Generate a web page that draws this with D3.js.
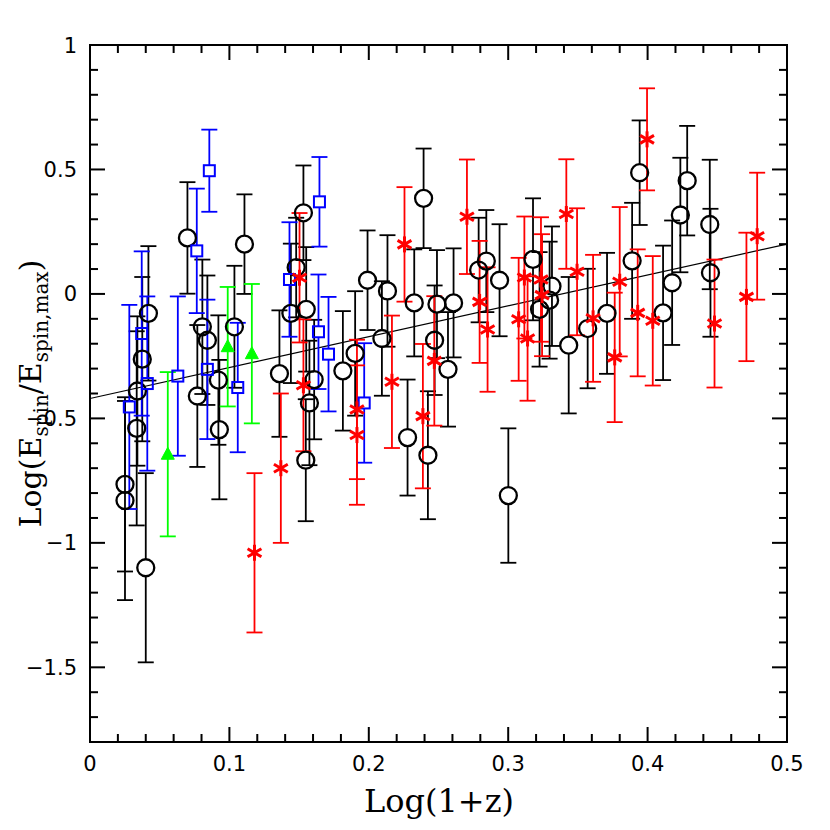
<!DOCTYPE html>
<html><head><meta charset="utf-8">
<script src="https://cdn.jsdelivr.net/npm/d3@7"></script>
<style>html,body{margin:0;padding:0;background:#fff}</style>
</head><body>
<svg id="c" width="830" height="830"></svg>
<script>
// ---- data (log(1+z), log(Espin/Espin,max), symmetric error) ----
const blackX = [0.0251,0.0251,0.040,0.0335,0.034,0.0375,0.0419,0.0699,0.0806,0.0842,0.077,0.0921,0.0928,0.1036,0.1108,0.1359,0.1441,0.1531,0.1479,0.1551,0.1608,0.1574,0.1548,0.1814,0.1902,0.1991,0.2094,0.2134,0.2278,0.2326,0.2393,0.2424,0.2472,0.2489,0.2568,0.2608,0.2788,0.2843,0.2938,0.3001,0.3178,0.3225,0.3297,0.3314,0.3434,0.357,0.3709,0.3889,0.3943,0.4111,0.4176,0.4235,0.4284,0.4446,0.4451];
const blackY = [-0.765,-0.83,-1.10,-0.54,-0.39,-0.262,-0.078,0.225,-0.132,-0.186,-0.41,-0.346,-0.545,-0.132,0.200,-0.32,-0.078,0.326,0.106,-0.062,-0.344,-0.438,-0.668,-0.309,-0.239,0.055,-0.179,0.012,-0.577,-0.036,0.384,-0.648,-0.186,-0.041,-0.303,-0.036,0.096,0.132,0.055,-0.81,0.139,-0.062,-0.025,0.031,-0.206,-0.139,-0.078,0.133,0.487,-0.076,0.045,0.317,0.455,0.279,0.085];
const blackE = [0.35,0.4,0.38,0.39,0.3,0.33,0.27,0.224,0.27,0.26,0.285,0.26,0.28,0.245,0.2,0.254,0.28,0.19,0.2,0.25,0.24,0.25,0.245,0.24,0.25,0.2,0.23,0.224,0.233,0.215,0.2,0.257,0.22,0.217,0.23,0.219,0.21,0.205,0.225,0.27,0.245,0.23,0.235,0.24,0.274,0.24,0.243,0.233,0.21,0.27,0.25,0.23,0.22,0.26,0.257];

const blueX = [0.0856,0.0766,0.0371,0.0411,0.0282,0.063,0.0842,0.106,0.1431,0.1646,0.1639,0.1711,0.1967];
const blueY = [0.495,0.173,-0.159,-0.36,-0.454,-0.33,-0.303,-0.376,0.058,0.37,-0.152,-0.242,-0.438];
const blueE = [0.165,0.25,0.33,0.35,0.41,0.32,0.28,0.26,0.23,0.18,0.23,0.23,0.24];

const greenX = [0.0988,0.1161,0.0558];
const greenY = [-0.212,-0.24,-0.644];
const greenE = [0.24,0.28,0.33];

const redX = [0.118,0.1369,0.1503,0.1531,0.1915,0.1915,0.2166,0.2256,0.2388,0.247,0.2704,0.2795,0.2852,0.3075,0.3116,0.3139,0.3235,0.3243,0.3417,0.3494,0.3609,0.3764,0.38,0.3929,0.3996,0.4037,0.448,0.4709,0.4786];
const redY = [-1.04,-0.70,0.065,-0.367,-0.464,-0.567,-0.353,0.199,-0.491,-0.269,0.31,-0.032,-0.143,-0.102,0.066,-0.179,0.058,-0.005,0.321,0.089,-0.098,-0.255,0.049,-0.076,0.621,-0.108,-0.119,-0.012,0.232];
const redE = [0.32,0.3,0.26,0.265,0.28,0.28,0.266,0.23,0.29,0.26,0.23,0.245,0.25,0.247,0.245,0.25,0.25,0.245,0.22,0.255,0.255,0.26,0.3,0.255,0.205,0.26,0.257,0.258,0.255];

const fitX = [0, 0.5];
const fitY = [-0.42, 0.2];

const xMajor = [0, 0.1, 0.2, 0.3, 0.4, 0.5];
const xMajorLabels = ["0", "0.1", "0.2", "0.3", "0.4", "0.5"];
const yMajor = [-1.5, -1, -0.5, 0, 0.5, 1];
const yMajorLabels = ["\u22121.5", "\u22121", "\u22120.5", "0", "0.5", "1"];

// ---- layout ----
const L = 90, R = 787, T = 45, B = 742;
const x = d3.scaleLinear().domain([0, 0.5]).range([L, R]);
const y = d3.scaleLinear().domain([-1.8, 1]).range([B, T]);
const svg = d3.select("#c");

// ticks
const xMinor = d3.range(0, 0.5001, 0.02).filter(v => Math.abs(v*10 - Math.round(v*10)) > 1e-6);
const yMinor = d3.range(-1.8, 1.0001, 0.1).filter(v => Math.abs(v*2 - Math.round(v*2)) > 1e-6);
const tk = svg.append("g").attr("stroke", "#000").attr("stroke-width", 2);
const MAJ = 15, MIN = 8;
xMajor.forEach(v => {
  tk.append("line").attr("x1", x(v)).attr("x2", x(v)).attr("y1", B).attr("y2", B - MAJ);
  tk.append("line").attr("x1", x(v)).attr("x2", x(v)).attr("y1", T).attr("y2", T + MAJ);
});
xMinor.forEach(v => {
  tk.append("line").attr("x1", x(v)).attr("x2", x(v)).attr("y1", B).attr("y2", B - MIN);
  tk.append("line").attr("x1", x(v)).attr("x2", x(v)).attr("y1", T).attr("y2", T + MIN);
});
yMajor.forEach(v => {
  tk.append("line").attr("y1", y(v)).attr("y2", y(v)).attr("x1", L).attr("x2", L + MAJ);
  tk.append("line").attr("y1", y(v)).attr("y2", y(v)).attr("x1", R).attr("x2", R - MAJ);
});
yMinor.forEach(v => {
  tk.append("line").attr("y1", y(v)).attr("y2", y(v)).attr("x1", L).attr("x2", L + MIN);
  tk.append("line").attr("y1", y(v)).attr("y2", y(v)).attr("x1", R).attr("x2", R - MIN);
});
svg.append("rect").attr("x", L).attr("y", T).attr("width", R - L).attr("height", B - T)
  .attr("fill", "none").attr("stroke", "#000").attr("stroke-width", 2);

// tick labels
const fam = "'DejaVu Sans', sans-serif";
xMajor.forEach((v, i) => {
  svg.append("text").attr("x", x(v)).attr("y", 771).attr("text-anchor", "middle")
    .attr("font-family", fam).attr("font-size", 21).text(xMajorLabels[i]);
});
yMajor.forEach((v, i) => {
  svg.append("text").attr("x", 77).attr("y", y(v) + 7.5).attr("text-anchor", "end")
    .attr("font-family", fam).attr("font-size", 21).text(yMajorLabels[i]);
});

// axis titles
const serif = "'DejaVu Serif', 'Liberation Serif', serif";
svg.append("text").attr("x", 439).attr("y", 812).attr("text-anchor", "middle")
  .attr("font-family", serif).attr("font-size", 32).text("Log(1+z)");
const yt = svg.append("text").attr("transform", `translate(41,${(T + B) / 2}) rotate(-90)`)
  .attr("text-anchor", "middle").attr("font-family", serif).attr("font-size", 30);
yt.append("tspan").text("Log(E");
yt.append("tspan").attr("font-size", 20).attr("dy", 7).text("spin");
yt.append("tspan").attr("dy", -7).text("/E");
yt.append("tspan").attr("font-size", 20).attr("dy", 7).text("spin,max");
yt.append("tspan").attr("dy", -7).text(")");

// fit line
svg.append("line").attr("x1", x(fitX[0])).attr("y1", y(fitY[0])).attr("x2", x(fitX[1])).attr("y2", y(fitY[1]))
  .attr("stroke", "#000").attr("stroke-width", 1.2);

// error bars
function errBars(X, Y, E, color, gap) {
  const g = svg.append("g").attr("stroke", color).attr("stroke-width", 1.8).attr("fill", "none");
  X.forEach((xv, i) => {
    const cx = x(xv), cy = y(Y[i]), top = y(Y[i] + E[i]), bot = y(Y[i] - E[i]);
    g.append("line").attr("x1", cx).attr("x2", cx).attr("y1", top).attr("y2", cy - gap);
    g.append("line").attr("x1", cx).attr("x2", cx).attr("y1", cy + gap).attr("y2", bot);
    g.append("line").attr("x1", cx - 8).attr("x2", cx + 8).attr("y1", top).attr("y2", top);
    g.append("line").attr("x1", cx - 8).attr("x2", cx + 8).attr("y1", bot).attr("y2", bot);
  });
}
errBars(blackX, blackY, blackE, "#000", 8.5);
errBars(blueX, blueY, blueE, "#0000ff", 5.5);
errBars(greenX, greenY, greenE, "#00ff00", 0);
errBars(redX, redY, redE, "#ff0000", 0);

// markers
svg.append("g").selectAll("circle").data(blackX).join("circle")
  .attr("cx", d => x(d)).attr("cy", (d, i) => y(blackY[i])).attr("r", 8.5)
  .attr("fill", "none").attr("stroke", "#000").attr("stroke-width", 2.3);
svg.append("g").selectAll("rect").data(blueX).join("rect")
  .attr("x", d => x(d) - 5.5).attr("y", (d, i) => y(blueY[i]) - 5.5).attr("width", 11).attr("height", 11)
  .attr("fill", "none").attr("stroke", "#0000ff").attr("stroke-width", 2);
svg.append("g").selectAll("path").data(greenX).join("path")
  .attr("d", (d, i) => { const cx = x(d), cy = y(greenY[i]); return `M${cx},${cy-7}L${cx+6.5},${cy+5}L${cx-6.5},${cy+5}Z`; })
  .attr("fill", "#00ff00").attr("stroke", "#00ff00").attr("stroke-width", 1);
const starG = svg.append("g").attr("stroke", "#ff0000").attr("stroke-width", 3);
redX.forEach((xv, i) => {
  const cx = x(xv), cy = y(redY[i]), s = 8;
  [90, 30, -30].forEach(a => {
    const r = a * Math.PI / 180, dx = s * Math.cos(r), dy = s * Math.sin(r);
    starG.append("line").attr("x1", cx - dx).attr("y1", cy - dy).attr("x2", cx + dx).attr("y2", cy + dy);
  });
});
</script>
</body></html>
